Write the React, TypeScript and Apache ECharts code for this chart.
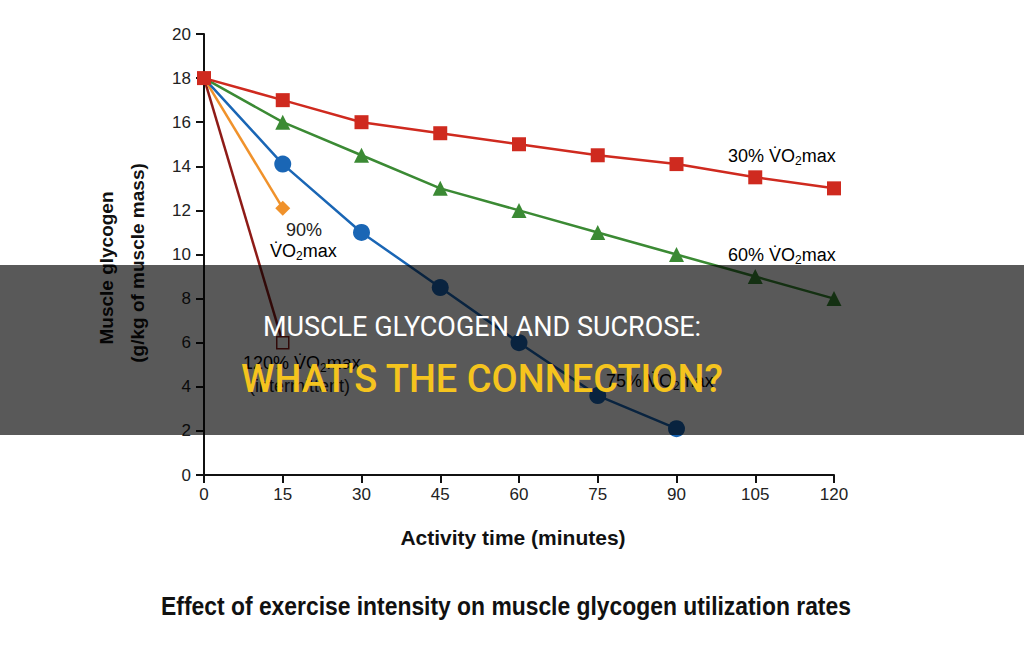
import React, { useEffect, useRef } from "react";
import * as echarts from "echarts";

const minutes = [0, 15, 30, 45, 60, 75, 90, 105, 120];
const vo30 = [18, 17, 16, 15.5, 15, 14.5, 14.1, 13.5, 13];
const vo60 = [18, 16, 14.5, 13, 12, 11, 10, 9, 8];
const vo75 = [18, 14.1, 11, 8.5, 6, 3.6, 2.1];
const vo90 = [18, 12.1];
const vo120 = [18, 6];
const yTicks = { min: 0, max: 20, interval: 2 };
const xTicks = { min: 0, max: 120, interval: 15 };

const pair = (vals: number[]) => vals.map((v, i) => [minutes[i], v]);

const FONT = "'Liberation Sans', Arial, sans-serif";

const voRich = {
  a: { fontSize: 18, fontFamily: FONT, color: "#222" },
  s: { fontSize: 12, fontFamily: FONT, color: "#222", padding: [10, 0, 0, 0] },
};

function voLabel(prefix: string, x: number, y: number, z = 50) {
  return {
    type: "text",
    x,
    y,
    z,
    style: {
      text: `{a|${prefix}V\u0307O}{s|2}{a|max}`,
      rich: voRich,
      verticalAlign: "middle",
    },
  };
}

export default function App() {
  const ref = useRef<HTMLDivElement>(null);
  useEffect(() => {
    if (!ref.current) return;
    const chart = echarts.init(ref.current, undefined, { renderer: "svg" });
    const lineSeries = (
      data: number[],
      color: string,
      symbol: string,
      size: number,
      z: number,
      hollow = false,
      showFirst = false
    ) => ({
      type: "line",
      data: pair(data),
      symbol,
      symbolSize: (_v: any, p: any) => (p.dataIndex === 0 && !showFirst ? 0 : size),
      showSymbol: true,
      z,
      lineStyle: { color, width: 2.5 },
      itemStyle: hollow
        ? { color: "#fff", borderColor: color, borderWidth: 1.5 }
        : { color, borderWidth: 0 },
      emphasis: { disabled: true },
    });
    chart.setOption({
      animation: false,
      backgroundColor: "#fff",
      grid: { left: 204, right: 190, top: 34, bottom: 185 },
      xAxis: {
        type: "value",
        ...xTicks,
        axisLine: { lineStyle: { color: "#111", width: 2 } },
        axisTick: { show: true, length: 8, lineStyle: { color: "#111", width: 2 } },
        axisLabel: { fontSize: 17, color: "#222", fontFamily: FONT, margin: 11 },
        splitLine: { show: false },
      },
      yAxis: {
        type: "value",
        ...yTicks,
        axisLine: { show: true, lineStyle: { color: "#111", width: 2 } },
        axisTick: { show: true, length: 8, lineStyle: { color: "#111", width: 2 } },
        axisLabel: { fontSize: 17, color: "#222", fontFamily: FONT, margin: 13 },
        splitLine: { show: false },
      },
      series: [
        lineSeries(vo120, "#8e1b17", "rect", 12, 3, true),
        lineSeries(vo90, "#f0922b", "diamond", 15, 4),
        lineSeries(vo75, "#1a66b5", "circle", 17, 5),
        lineSeries(vo60, "#3b8a34", "triangle", 15, 6),
        lineSeries(vo30, "#cf2a1f", "rect", 14, 7, false, true),
      ],
      graphic: [
        voLabel("30% ", 728, 156),
        voLabel("60% ", 728, 255),
        {
          type: "text",
          x: 286,
          y: 230,
          z: 50,
          style: { text: "90%", fontSize: 18, fontFamily: FONT, fill: "#222", verticalAlign: "middle" },
        },
        voLabel("", 270, 251),
        voLabel("120% ", 243, 363),
        {
          type: "text",
          x: 249,
          y: 386,
          z: 50,
          style: { text: "(intermittent)", fontSize: 18, fontFamily: FONT, fill: "#222", verticalAlign: "middle" },
        },
        voLabel("75% ", 606, 381),
        {
          type: "text",
          x: 106,
          y: 268,
          rotation: Math.PI / 2,
          z: 50,
          style: {
            text: "Muscle glycogen",
            fontSize: 19,
            fontWeight: "bold",
            fontFamily: FONT,
            fill: "#111",
            align: "center",
            verticalAlign: "middle",
          },
        },
        {
          type: "text",
          x: 137,
          y: 263,
          rotation: Math.PI / 2,
          z: 50,
          style: {
            text: "(g/kg of muscle mass)",
            fontSize: 19,
            fontWeight: "bold",
            fontFamily: FONT,
            fill: "#111",
            align: "center",
            verticalAlign: "middle",
          },
        },
        {
          type: "text",
          x: 513,
          y: 537,
          z: 50,
          style: {
            text: "Activity time (minutes)",
            fontSize: 21,
            fontWeight: "bold",
            fontFamily: FONT,
            fill: "#111",
            align: "center",
            verticalAlign: "middle",
          },
        },
        {
          type: "text",
          x: 506,
          y: 606,
          z: 50,
          scaleX: 0.88,
          style: {
            text: "Effect of exercise intensity on muscle glycogen utilization rates",
            fontSize: 26,
            fontWeight: "bold",
            fontFamily: FONT,
            fill: "#111",
            align: "center",
            verticalAlign: "middle",
          },
        },
        {
          type: "rect",
          z: 100,
          shape: { x: 0, y: 265, width: 1024, height: 170 },
          style: { fill: "rgba(0,0,0,0.65)" },
        },
        {
          type: "text",
          x: 482,
          y: 327,
          z: 101,
          style: {
            text: "MUSCLE GLYCOGEN AND SUCROSE:",
            fontSize: 27,
            fontFamily: "Roboto, sans-serif",
            fill: "#ffffff",
            align: "center",
            verticalAlign: "middle",
          },
        },
        {
          type: "text",
          x: 482,
          y: 379,
          z: 101,
          style: {
            text: "WHAT'S THE CONNECTION?",
            fontSize: 38,
            fontWeight: 500,
            fontFamily: "Roboto, sans-serif",
            fill: "#f5c41e",
            align: "center",
            verticalAlign: "middle",
          },
        },
      ],
    });
    return () => chart.dispose();
  }, []);
  return (
    <div
      ref={ref}
      style={{ position: "fixed", left: 0, top: 0, width: 1024, height: 660, background: "#fff" }}
    />
  );
}
